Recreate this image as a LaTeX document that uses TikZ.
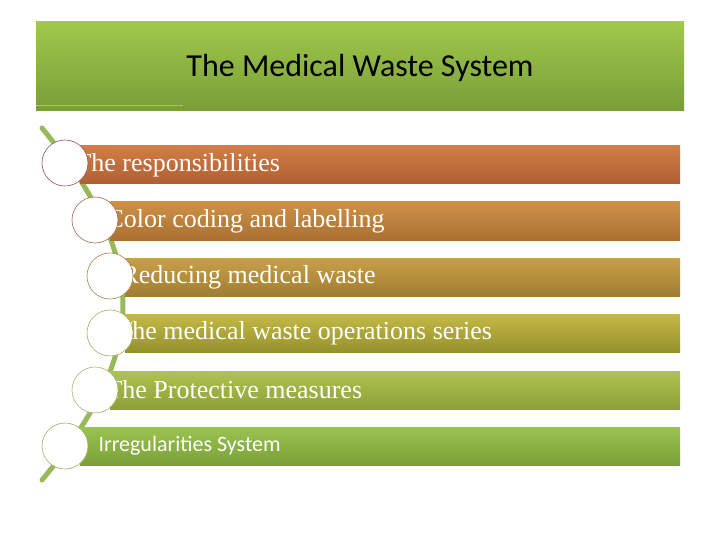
\documentclass[tikz,border=0pt]{standalone}
\usepackage{fontspec}
\setmainfont{Liberation Serif}
\newfontfamily\carlitofont{Carlito}
\definecolor{ttop}{RGB}{160,200,75}\definecolor{tbot}{RGB}{120,158,56}
\definecolor{vine}{RGB}{150,185,90}
\definecolor{aT}{RGB}{210,125,70}\definecolor{aB}{RGB}{175,95,50}
\definecolor{bT}{RGB}{205,145,70}\definecolor{bB}{RGB}{170,112,50}
\definecolor{cT}{RGB}{200,160,70}\definecolor{cB}{RGB}{160,125,50}
\definecolor{dT}{RGB}{195,185,70}\definecolor{dB}{RGB}{150,145,45}
\definecolor{eT}{RGB}{175,195,80}\definecolor{eB}{RGB}{140,160,55}
\definecolor{fT}{RGB}{155,195,80}\definecolor{fB}{RGB}{120,160,55}
\definecolor{k1}{RGB}{150,80,90}\definecolor{k2}{RGB}{160,100,80}
\definecolor{k3}{RGB}{160,130,70}\definecolor{k4}{RGB}{170,170,100}
\definecolor{k5}{RGB}{170,180,110}\definecolor{k6}{RGB}{150,175,100}
\begin{document}
\begin{tikzpicture}[x=1pt,y=-1pt,
  lbl/.style={anchor=west,text=white,font=\fontsize{26}{28}\selectfont},
  circ/.style={circle,draw=#1,fill=white,minimum size=46pt,inner sep=0pt,line width=0.6pt}]
\useasboundingbox (0,0) rectangle (720,540);
\shade[top color=ttop,bottom color=tbot] (36,22) rectangle (684,111);
\node[font=\carlitofont\fontsize{32}{34}\selectfont] (title) at (360,68) {The Medical Waste System};
\draw[gray!60,line width=0.8pt] (36,105) -- (183,105);
\coordinate (s) at (42,128); \coordinate (e) at (42,480);
\draw[line width=5pt,color=vine,line cap=round] (s) .. controls (150,260) and (150,350) .. (e);
\def\row#1#2#3#4#5#6#7{%
 \shade[top color=#4,bottom color=#5] (#2,#1) rectangle (680,#1+38);
 \node[lbl] (t#6) at (#3,#1+19) {#7};}
\row{146}{80}{72}{aT}{aB}{1}{The responsibilities}
\row{202}{110}{103}{bT}{bB}{2}{Color coding and labelling}
\row{258}{125}{118}{cT}{cB}{3}{Reducing medical waste}
\row{314}{125}{113}{dT}{dB}{4}{The medical waste operations series}
\row{371}{110}{103}{eT}{eB}{5}{The Protective measures}
\shade[top color=fT,bottom color=fB] (80,427) rectangle (680,465);
\node[anchor=west,text=white,font=\carlitofont\fontsize{22}{24}\selectfont] (t6) at (95,446) {Irregularities System};
\node[circ=k1] (c1) at (65,163) {};
\node[circ=k2] (c2) at (95,220) {};
\node[circ=k3] (c3) at (110,276) {};
\node[circ=k4] (c4) at (110,333) {};
\node[circ=k5] (c5) at (95,390) {};
\node[circ=k6] (c6) at (65,446) {};
\end{tikzpicture}
\end{document}
